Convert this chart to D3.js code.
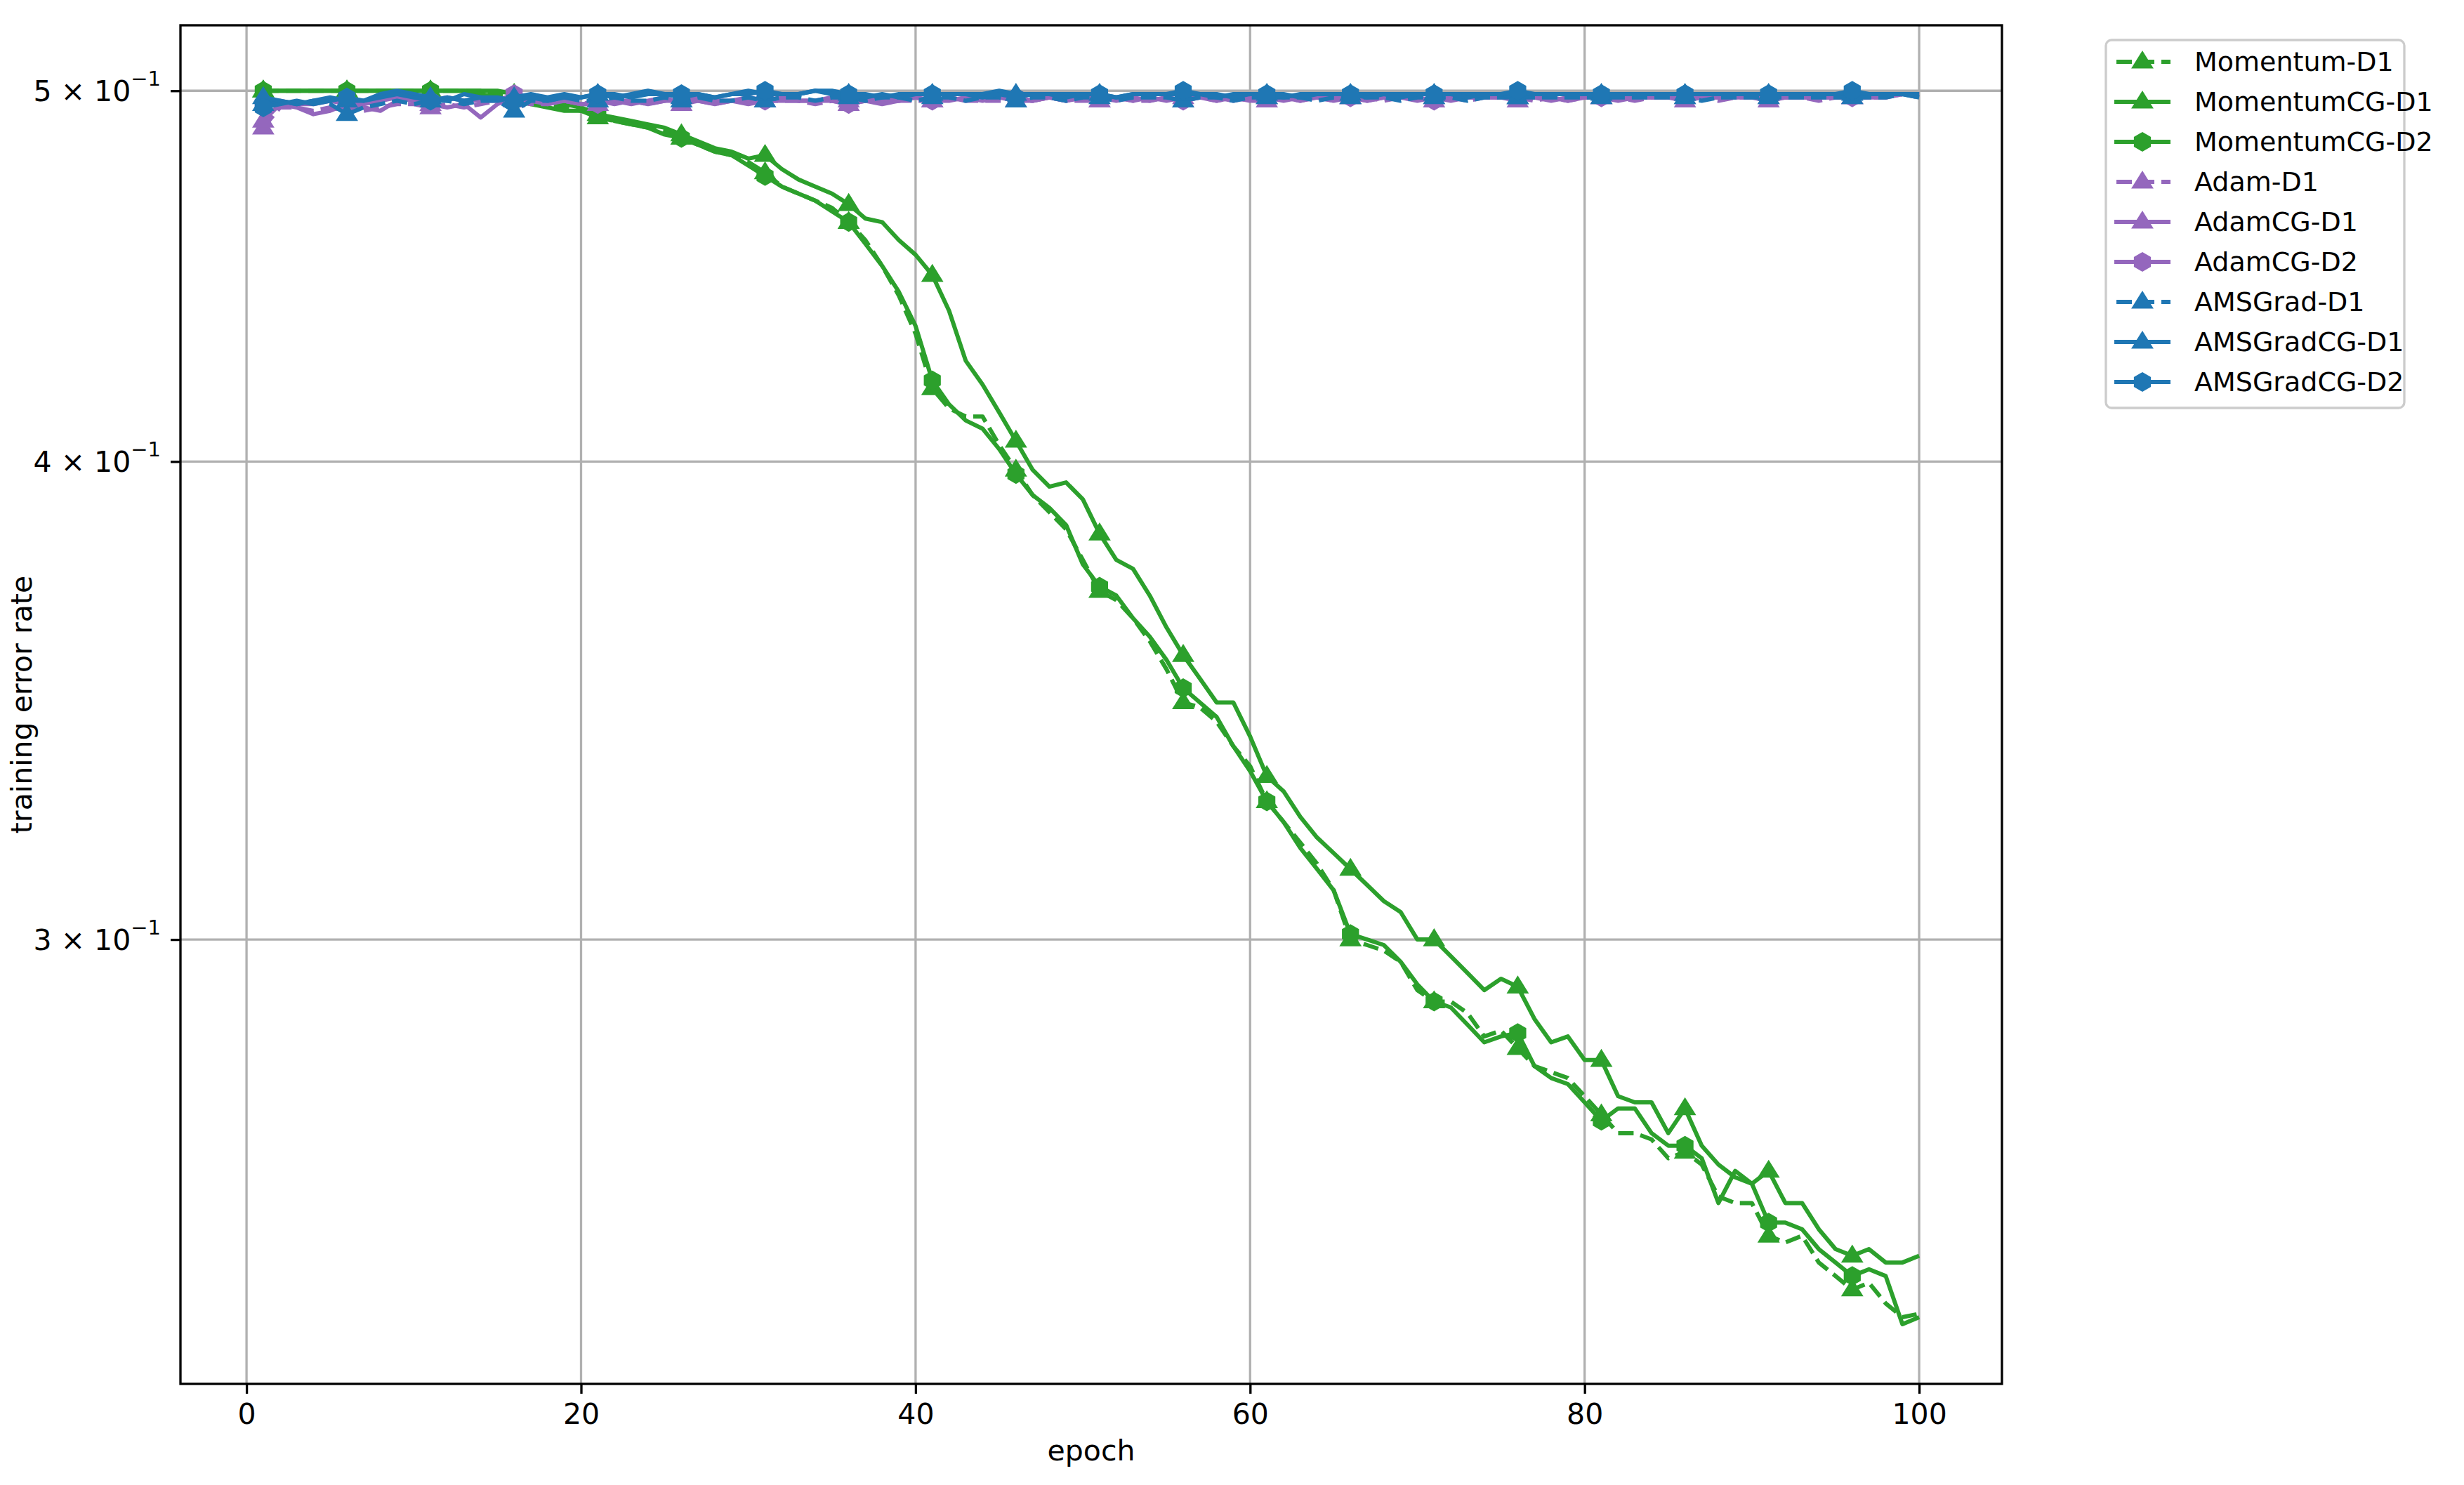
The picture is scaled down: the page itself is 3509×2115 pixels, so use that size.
<!DOCTYPE html>
<html>
<head>
<meta charset="utf-8">
<script src="https://cdn.jsdelivr.net/npm/d3@7"></script>
<style>
  body { margin: 0; background: #fff; }
  text { font-family: "DejaVu Sans", sans-serif; }
</style>
</head>
<body>
<div id="chart"></div>
<script>
// epochs 1..100, one value per epoch, rows of ten
const epochs = d3.range(1, 101);
const momentumD1 = [
  0.500,0.500,0.500,0.500,0.500,0.500,0.500,0.500,0.500,0.500,
  0.500,0.500,0.500,0.500,0.499,0.498,0.497,0.496,0.495,0.494,
  0.492,0.491,0.490,0.489,0.488,0.486,0.484,0.482,0.481,0.479,
  0.476,0.472,0.470,0.468,0.466,0.462,0.457,0.450,0.442,0.432,
  0.418,0.413,0.411,0.411,0.404,0.398,0.392,0.388,0.384,0.377,
  0.370,0.368,0.364,0.359,0.353,0.346,0.345,0.342,0.337,0.333,
  0.326,0.322,0.318,0.314,0.309,0.300,0.299,0.298,0.296,0.291,
  0.289,0.289,0.287,0.283,0.284,0.281,0.278,0.277,0.276,0.273,
  0.270,0.267,0.267,0.266,0.263,0.264,0.262,0.257,0.256,0.256,
  0.251,0.250,0.251,0.247,0.245,0.243,0.244,0.241,0.239,0.2395];
const momentumCGD1 = [
  0.500,0.500,0.500,0.500,0.500,0.500,0.500,0.500,0.500,0.500,
  0.500,0.500,0.500,0.500,0.500,0.499,0.498,0.497,0.496,0.495,
  0.493,0.492,0.491,0.490,0.489,0.487,0.485,0.483,0.482,0.480,
  0.481,0.477,0.474,0.472,0.470,0.467,0.463,0.462,0.457,0.453,
  0.4475,0.438,0.425,0.419,0.412,0.405,0.398,0.394,0.395,0.391,
  0.383,0.377,0.375,0.369,0.362,0.356,0.351,0.346,0.346,0.339,
  0.331,0.328,0.323,0.319,0.316,0.313,0.310,0.307,0.305,0.300,
  0.300,0.297,0.294,0.291,0.293,0.2916,0.286,0.282,0.283,0.279,
  0.279,0.273,0.272,0.272,0.267,0.271,0.265,0.262,0.260,0.259,
  0.261,0.256,0.256,0.252,0.249,0.248,0.249,0.247,0.247,0.248];
const momentumCGD2 = [
  0.500,0.500,0.500,0.500,0.500,0.500,0.500,0.500,0.500,0.500,
  0.500,0.500,0.500,0.499,0.498,0.497,0.496,0.495,0.494,0.494,
  0.493,0.491,0.490,0.489,0.487,0.486,0.484,0.482,0.481,0.478,
  0.475,0.472,0.470,0.468,0.465,0.462,0.456,0.450,0.443,0.434,
  0.420,0.414,0.410,0.408,0.403,0.397,0.392,0.389,0.385,0.376,
  0.371,0.369,0.364,0.360,0.355,0.349,0.346,0.343,0.337,0.332,
  0.326,0.322,0.317,0.313,0.309,0.301,0.300,0.299,0.296,0.292,
  0.289,0.288,0.285,0.282,0.283,0.2836,0.278,0.276,0.275,0.272,
  0.269,0.271,0.271,0.267,0.265,0.265,0.263,0.256,0.261,0.259,
  0.253,0.253,0.252,0.249,0.247,0.245,0.246,0.245,0.238,0.239];
const adamD1 = [
  0.489,0.495,0.495,0.494,0.495,0.496,0.494,0.495,0.496,0.496,
  0.495,0.496,0.495,0.496,0.497,0.497,0.496,0.496,0.497,0.496,
  0.497,0.496,0.497,0.496,0.497,0.497,0.497,0.496,0.497,0.497,
  0.497,0.497,0.497,0.496,0.497,0.496,0.497,0.497,0.497,0.497,
  0.497,0.498,0.497,0.497,0.497,0.497,0.497,0.498,0.497,0.497,
  0.497,0.498,0.497,0.497,0.498,0.497,0.498,0.497,0.498,0.497,
  0.497,0.498,0.497,0.498,0.497,0.498,0.498,0.497,0.498,0.498,
  0.497,0.498,0.497,0.498,0.498,0.498,0.497,0.498,0.497,0.498,
  0.498,0.498,0.497,0.498,0.498,0.498,0.498,0.497,0.498,0.498,
  0.498,0.498,0.498,0.497,0.498,0.498,0.498,0.498,0.499,0.499];
const adamCGD1 = [
  0.491,0.496,0.495,0.493,0.494,0.496,0.495,0.494,0.497,0.498,
  0.496,0.495,0.496,0.492,0.496,0.498,0.497,0.496,0.497,0.496,
  0.496,0.497,0.496,0.497,0.498,0.496,0.497,0.496,0.497,0.496,
  0.497,0.498,0.497,0.497,0.498,0.497,0.497,0.496,0.497,0.498,
  0.497,0.497,0.498,0.497,0.498,0.497,0.497,0.498,0.497,0.498,
  0.497,0.498,0.497,0.498,0.497,0.498,0.498,0.497,0.498,0.497,
  0.498,0.497,0.498,0.498,0.497,0.498,0.497,0.498,0.498,0.497,
  0.498,0.497,0.498,0.498,0.498,0.497,0.498,0.498,0.497,0.498,
  0.498,0.497,0.498,0.498,0.498,0.497,0.498,0.498,0.498,0.498,
  0.497,0.498,0.498,0.498,0.498,0.498,0.498,0.498,0.499,0.499];
const adamCGD2 = [
  0.496,0.497,0.496,0.496,0.497,0.496,0.496,0.497,0.498,0.497,
  0.497,0.498,0.497,0.497,0.497,0.499,0.498,0.497,0.497,0.496,
  0.496,0.497,0.497,0.496,0.497,0.497,0.498,0.497,0.497,0.498,
  0.497,0.497,0.497,0.497,0.497,0.496,0.497,0.498,0.497,0.498,
  0.497,0.498,0.497,0.498,0.498,0.498,0.497,0.498,0.497,0.498,
  0.498,0.497,0.498,0.497,0.498,0.497,0.498,0.498,0.497,0.498,
  0.498,0.498,0.497,0.498,0.498,0.498,0.497,0.498,0.498,0.498,
  0.497,0.498,0.498,0.498,0.498,0.498,0.498,0.497,0.498,0.498,
  0.498,0.498,0.498,0.498,0.498,0.498,0.498,0.498,0.498,0.499,
  0.498,0.498,0.498,0.498,0.498,0.498,0.498,0.499,0.499,0.499];
const amsD1 = [
  0.496,0.497,0.496,0.497,0.496,0.493,0.495,0.496,0.497,0.496,
  0.497,0.497,0.496,0.497,0.497,0.494,0.497,0.497,0.498,0.497,
  0.497,0.498,0.497,0.497,0.498,0.497,0.498,0.497,0.497,0.498,
  0.497,0.498,0.498,0.497,0.498,0.498,0.497,0.498,0.498,0.497,
  0.498,0.498,0.497,0.498,0.498,0.497,0.498,0.498,0.497,0.498,
  0.498,0.497,0.498,0.498,0.498,0.497,0.498,0.498,0.497,0.498,
  0.498,0.498,0.498,0.497,0.498,0.498,0.498,0.498,0.497,0.498,
  0.498,0.498,0.497,0.498,0.498,0.498,0.498,0.498,0.498,0.498,
  0.498,0.498,0.498,0.498,0.498,0.498,0.497,0.498,0.498,0.498,
  0.498,0.498,0.498,0.498,0.498,0.498,0.498,0.498,0.499,0.498];
const amsCGD1 = [
  0.498,0.497,0.496,0.497,0.498,0.497,0.497,0.499,0.500,0.499,
  0.498,0.497,0.499,0.498,0.497,0.498,0.499,0.498,0.499,0.498,
  0.499,0.498,0.499,0.500,0.499,0.498,0.499,0.498,0.499,0.500,
  0.499,0.499,0.499,0.500,0.500,0.499,0.499,0.498,0.499,0.499,
  0.499,0.499,0.499,0.499,0.500,0.499,0.499,0.499,0.499,0.499,
  0.499,0.498,0.499,0.499,0.499,0.499,0.499,0.498,0.499,0.499,
  0.499,0.499,0.498,0.499,0.499,0.499,0.499,0.499,0.498,0.499,
  0.499,0.499,0.499,0.499,0.499,0.498,0.499,0.499,0.499,0.499,
  0.499,0.499,0.499,0.499,0.499,0.499,0.499,0.499,0.499,0.499,
  0.499,0.499,0.499,0.499,0.499,0.499,0.499,0.499,0.499,0.499];
const amsCGD2 = [
  0.495,0.496,0.497,0.496,0.497,0.498,0.497,0.498,0.499,0.498,
  0.497,0.498,0.497,0.498,0.498,0.497,0.498,0.497,0.498,0.498,
  0.499,0.499,0.498,0.499,0.499,0.499,0.499,0.498,0.499,0.499,
  0.500,0.499,0.499,0.500,0.499,0.499,0.498,0.499,0.498,0.499,
  0.499,0.499,0.499,0.498,0.499,0.498,0.499,0.499,0.498,0.499,
  0.499,0.498,0.499,0.499,0.499,0.500,0.499,0.499,0.498,0.499,
  0.499,0.498,0.499,0.499,0.499,0.499,0.498,0.499,0.499,0.499,
  0.499,0.499,0.498,0.499,0.499,0.500,0.499,0.499,0.499,0.499,
  0.499,0.499,0.499,0.499,0.499,0.499,0.499,0.499,0.499,0.499,
  0.499,0.499,0.499,0.499,0.499,0.500,0.499,0.499,0.499,0.498];

const seriesNames = ['Momentum-D1','MomentumCG-D1','MomentumCG-D2','Adam-D1','AdamCG-D1','AdamCG-D2','AMSGrad-D1','AMSGradCG-D1','AMSGradCG-D2'];
const seriesValues = [momentumD1, momentumCGD1, momentumCGD2, adamD1, adamCGD1, adamCGD2, amsD1, amsCGD1, amsCGD2];
const xTicks = [0, 20, 40, 60, 80, 100];
const yTicks = [0.3, 0.4, 0.5];
const yTickLabels = ['3', '4', '5'];

const green = '#2ca02c', purple = '#9467bd', blue = '#1f77b4';
const colors = [green, green, green, purple, purple, purple, blue, blue, blue];
const dashed = [true, false, false, true, false, false, true, false, false];
const shapes = ['tri', 'tri', 'hex', 'tri', 'tri', 'hex', 'tri', 'tri', 'hex'];

const W = 3509, H = 2115;
const m = { left: 257, right: 2851, top: 36, bottom: 1971 };

const svg = d3.select('#chart').append('svg').attr('width', W).attr('height', H);

const x = d3.scaleLinear().domain([-3.95, 104.95]).range([m.left, m.right]);
const y = d3.scaleLog().domain([0.2296, 0.5201]).range([m.bottom, m.top]);

// grid
svg.append('g').selectAll('line').data(xTicks).join('line')
  .attr('x1', d => x(d)).attr('x2', d => x(d)).attr('y1', m.top).attr('y2', m.bottom)
  .attr('stroke', '#b0b0b0').attr('stroke-width', 3.3);
svg.append('g').selectAll('line').data(yTicks).join('line')
  .attr('x1', m.left).attr('x2', m.right).attr('y1', d => y(d)).attr('y2', d => y(d))
  .attr('stroke', '#b0b0b0').attr('stroke-width', 3.3);

// axes
const xAxis = svg.append('g').attr('transform', `translate(0,${m.bottom})`)
  .call(d3.axisBottom(x).tickValues(xTicks).tickSize(14).tickPadding(14).tickFormat(d3.format('d')));
const yAxis = svg.append('g').attr('transform', `translate(${m.left},0)`)
  .call(d3.axisLeft(y).tickValues(yTicks).tickSize(14).tickPadding(14).tickFormat(''));
[xAxis, yAxis].forEach(a => {
  a.select('.domain').remove();
  a.selectAll('line').attr('stroke', '#000').attr('stroke-width', 3.3);
  a.selectAll('text').attr('font-size', 41).attr('fill', '#000').attr('font-family', '"DejaVu Sans", sans-serif');
});
// y tick labels with exponent
yAxis.selectAll('.tick').each(function(d, i) {
  const t = d3.select(this).select('text').attr('dy', '0.35em').attr('x', -28);
  t.append('tspan').text(yTickLabels[i] + ' \u00d7 10');
  t.append('tspan').attr('dy', '-0.75em').attr('font-size', 29).text('\u22121');
});

// clip
svg.append('clipPath').attr('id', 'clip').append('rect')
  .attr('x', m.left).attr('y', m.top).attr('width', m.right - m.left).attr('height', m.bottom - m.top);

const line = d3.line().x((d, i) => x(epochs[i])).y(d => y(d));
const hexPath = r => {
  const pts = d3.range(6).map(k => {
    const a = Math.PI / 3 * k - Math.PI / 2;
    return [r * Math.cos(a), r * Math.sin(a)];
  });
  return 'M' + pts.join('L') + 'Z';
};
const triPath = r => `M0,${-r}L${r * 0.866 * 1.15},${r * 0.5 * 1.2}L${-r * 0.866 * 1.15},${r * 0.5 * 1.2}Z`;
const markerPath = s => s === 'hex' ? hexPath(14) : triPath(16);

const plot = svg.append('g').attr('clip-path', 'url(#clip)');
seriesValues.forEach((vals, si) => {
  const g = plot.append('g');
  g.append('path').attr('d', line(vals)).attr('fill', 'none')
    .attr('stroke', colors[si]).attr('stroke-width', 6).attr('stroke-linejoin', 'round')
    .attr('stroke-dasharray', dashed[si] ? '22,10' : null);
  g.selectAll('path.mk').data(vals.filter((v, i) => i % 5 === 0)).join('path')
    .attr('class', 'mk')
    .attr('transform', (d, k) => `translate(${x(epochs[k * 5])},${y(d)})`)
    .attr('d', markerPath(shapes[si])).attr('fill', colors[si]);
});

// frame
svg.append('rect').attr('x', m.left).attr('y', m.top).attr('width', m.right - m.left).attr('height', m.bottom - m.top)
  .attr('fill', 'none').attr('stroke', '#000').attr('stroke-width', 3.3);

// axis labels
svg.append('text').attr('x', (m.left + m.right) / 2).attr('y', 2080).attr('text-anchor', 'middle')
  .attr('font-size', 41).text('epoch');
svg.append('text').attr('transform', `translate(45,${(m.top + m.bottom) / 2}) rotate(-90)`)
  .attr('text-anchor', 'middle').attr('font-size', 41).text('training error rate');

// legend
const lg = svg.append('g');
lg.append('rect').attr('x', 2999).attr('y', 57).attr('width', 425).attr('height', 524).attr('rx', 8)
  .attr('fill', '#fff').attr('stroke', '#cccccc').attr('stroke-width', 3.3);
seriesNames.forEach((name, i) => {
  const cy = 88 + i * 57;
  lg.append('line').attr('x1', 3011).attr('x2', 3091).attr('y1', cy).attr('y2', cy)
    .attr('stroke', colors[i]).attr('stroke-width', 6)
    .attr('stroke-dasharray', dashed[i] ? '22,10' : null)
    .attr('stroke-dashoffset', dashed[i] ? -3 : null);
  lg.append('path').attr('transform', `translate(3051,${cy})`).attr('d', markerPath(shapes[i])).attr('fill', colors[i]);
  lg.append('text').attr('x', 3125).attr('y', cy).attr('dy', '0.35em').attr('font-size', 38).text(name);
});
</script>
</body>
</html>
